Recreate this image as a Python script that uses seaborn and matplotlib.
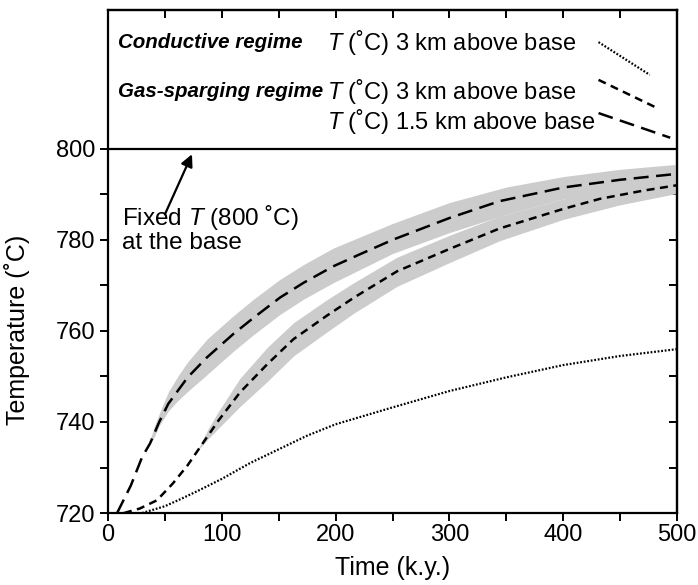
import matplotlib
matplotlib.use("Agg")
import matplotlib.pyplot as plt
import pandas as pd
import seaborn as sns

# gas-sparging regime, T 1.5 km above base (long dash)
t_gas15 = [8, 20, 30, 37, 45, 53, 70, 87, 110, 128, 151, 172, 198, 221, 250, 300, 344, 400, 450, 500]
T_gas15 = [720, 726, 732.3, 735.3, 740, 744, 749.8, 754.2, 759.3, 762.9, 767.3, 770.6, 774.2,
           776.8, 780, 784.8, 788.5, 791.5, 793.2, 794.5]

# gas-sparging regime, T 3 km above base (short dash)
t_gas3 = [14, 28, 43, 57, 70, 81, 97, 116, 140, 163, 192, 216, 254, 300, 344, 400, 432, 470, 500]
T_gas3 = [720, 721, 722.8, 726.5, 730.5, 734.5, 740.3, 746.5, 752.7, 758.2, 763.3, 767.3,
          773.1, 778, 782.5, 786.8, 789, 790.8, 792]

# conductive regime, T 3 km above base (dotted)
t_cond = [30, 50, 65, 80, 100, 125, 150, 175, 200, 250, 300, 350, 400, 450, 500]
T_cond = [720, 721.5, 723.2, 725, 727.5, 731, 734, 737, 739.5, 743.2, 746.8, 749.8, 752.5, 754.5, 756]

# grey envelopes around the gas-sparging curves
t_band15 = [35, 41, 45, 53, 61, 70, 87, 110, 128, 151, 172, 198, 250, 300, 350, 400, 450, 500]
band15_hi = [734.6, 739.2, 741.8, 746.6, 749.9, 753.2, 758.2, 763.3, 767, 771.3, 774.6, 778.2,
             783.6, 788.2, 791.6, 793.9, 795.5, 796.6]
band15_lo = [734.3, 736.9, 739.2, 742.4, 744.6, 746.7, 750.4, 755.5, 759.2, 763.6, 767, 770.6,
             777, 781.6, 785.6, 789, 790.9, 792.2]

t_band3 = [79, 88, 97, 116, 140, 163, 192, 216, 254, 300, 344, 400, 450, 500]
band3_hi = [734, 738.5, 742.3, 749.6, 756.4, 761.8, 766.8, 770.6, 776.2, 781, 785.2, 789, 791.5, 793.8]
band3_lo = [733.8, 736.3, 738.6, 743.4, 748.9, 754.5, 759.7, 763.9, 769.8, 775, 779.8, 784.5, 787.7, 790.2]

T_base = 800

sns.set_style("ticks")
plt.rcParams["font.family"] = ["Liberation Sans", "DejaVu Sans"]
plt.rcParams["mathtext.fontset"] = "custom"
plt.rcParams["mathtext.rm"] = "Liberation Sans"
plt.rcParams["mathtext.it"] = "Liberation Sans:italic"
plt.rcParams["text.color"] = "black"
plt.rcParams["axes.labelcolor"] = "black"
plt.rcParams["xtick.color"] = "black"
plt.rcParams["ytick.color"] = "black"

fig = plt.figure(figsize=(6.98, 5.85), dpi=100)
ax = fig.add_axes([0.1547, 0.123, 0.8153, 0.860])

grey = "#cccccc"
ax.fill_between(t_band15, band15_lo, band15_hi, color=grey, lw=0, zorder=1)
ax.fill_between(t_band3, band3_lo, band3_hi, color=grey, lw=0, zorder=1)

df15 = pd.DataFrame({"t": t_gas15, "T": T_gas15})
df3 = pd.DataFrame({"t": t_gas3, "T": T_gas3})
dfc = pd.DataFrame({"t": t_cond, "T": T_cond})

long_dash = (0, (6, 3))
short_dash = (0, (3.2, 2.2))
dots = (0, (0.8, 0.8))

sns.lineplot(data=df15, x="t", y="T", ax=ax, color="black", lw=1.8, linestyle=long_dash, zorder=3)
sns.lineplot(data=df3, x="t", y="T", ax=ax, color="black", lw=1.8, linestyle=short_dash, zorder=3)
sns.lineplot(data=dfc, x="t", y="T", ax=ax, color="black", lw=1.6, linestyle=dots, zorder=3)

ax.axhline(T_base, color="black", lw=1.6, zorder=4)

ax.set_xlim(0, 500)
ax.set_ylim(720, 830.5)
ax.set_xticks([0, 100, 200, 300, 400, 500])
ax.set_xticks([50, 150, 250, 350, 450], minor=True)
ax.set_yticks([720, 740, 760, 780, 800])
ax.set_yticks([730, 750, 770, 790], minor=True)
ax.tick_params(axis="both", which="both", direction="out", length=6, width=1.4,
               labelsize=17, colors="black")
ax.tick_params(axis="x", pad=2)
ax.tick_params(axis="y", pad=3)
for s in ax.spines.values():
    s.set_linewidth(1.6)
    s.set_color("black")

# inward ticks on top and right
top = ax.secondary_xaxis("top")
top.set_xticks([50, 100, 150, 200, 250, 300, 350, 400, 450])
top.tick_params(direction="in", length=6, width=1.4, labeltop=False)
top.spines["top"].set_linewidth(1.6)
right = ax.secondary_yaxis("right")
right.set_yticks([720, 730, 740, 750, 760, 770, 780, 790, 800])
right.tick_params(direction="in", length=6, width=1.4, labelright=False)
right.spines["right"].set_linewidth(1.6)

ax.set_xlabel("Time (k.y.)", fontsize=18, labelpad=7)
ax.set_ylabel("Temperature (˚C)", fontsize=18)
ax.yaxis.set_label_coords(-0.137, 0.364)

# fixed-T annotation
ax.annotate("", xy=(73.8, 798.8), xytext=(50, 785.6),
            arrowprops=dict(arrowstyle="-|>", color="black", lw=1.6,
                            mutation_scale=18, shrinkA=0, shrinkB=0))
ax.text(12, 788.2, "Fixed $T$ (800 ˚C)\nat the base", fontsize=17.5,
        va="top", ha="left", linespacing=1.0)

# legend block above the base line
tr = ax.transAxes
ax.text(0.0176, 0.936, "Conductive regime", transform=tr, fontsize=14.8,
        fontweight="bold", fontstyle="italic", va="center")
ax.text(0.0176, 0.837, "Gas-sparging regime", transform=tr, fontsize=14.8,
        fontweight="bold", fontstyle="italic", va="center")
ax.text(0.385, 0.936, "$T$ (˚C) 3 km above base", transform=tr, fontsize=17, va="center")
ax.text(0.385, 0.837, "$T$ (˚C) 3 km above base", transform=tr, fontsize=17, va="center")
ax.text(0.385, 0.779, "$T$ (˚C) 1.5 km above base", transform=tr, fontsize=17, va="center")
ax.plot([0.862, 0.952], [0.936, 0.871], transform=tr, color="black", lw=1.6, linestyle=dots)
ax.plot([0.862, 0.965], [0.861, 0.805], transform=tr, color="black", lw=1.8, linestyle=short_dash)
ax.plot([0.862, 0.988], [0.795, 0.746], transform=tr, color="black", lw=1.8, linestyle=long_dash)

fig.savefig("out.png", dpi=100, facecolor="white")
